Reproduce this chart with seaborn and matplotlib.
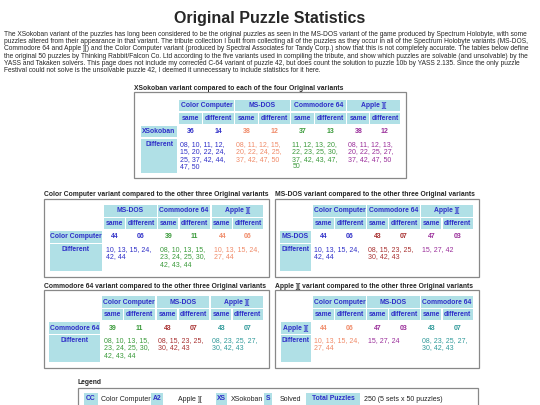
import matplotlib
matplotlib.use("Agg")
import matplotlib.pyplot as plt
import seaborn as sns
from matplotlib.patches import Rectangle

sns.set_theme(style="white")
plt.rcParams['font.family'] = ['Liberation Sans', 'DejaVu Sans']

# ---------------- data ----------------
TITLE = "Original Puzzle Statistics"
PARAGRAPH = [
    "The XSokoban variant of the puzzles has long been considered to be the original puzzles as seen in the MS-DOS variant of the game produced by Spectrum Holobyte, with some",
    "puzzles altered from their appearance in that variant. The tribute collection I built from collecting all of the puzzles as they occur in all of the Spectrum Holobyte variants (MS-DOS,",
    "Commodore 64 and Apple ][) and the Color Computer variant (produced by Spectral Associates for Tandy Corp.) show that this is not completely accurate. The tables below define",
    "the original 50 puzzles by Thinking Rabbit/Falcon Co. Ltd according to the five variants used in compiling the tribute, and show which puzzles are solvable (and unsolvable) by the",
    "YASS and Takaken solvers. This page does not include my corrected C-64 variant of puzzle 42, but does count the solution to puzzle 10b by YASS 2.135. Since the only puzzle",
    "Festival could not solve is the unsolvable puzzle 42, I deemed it unnecessary to include statistics for it here.",
]

XS_COLS = ["Color Computer", "MS-DOS", "Commodore 64", "Apple ]["]
XS_SAME = [36, 38, 37, 38]
XS_DIFF = [14, 12, 13, 12]
XS_LISTS = [[8, 10, 11, 12, 15, 20, 22, 24, 25, 37, 42, 44, 47, 50],
            [8, 11, 12, 15, 20, 22, 24, 25, 37, 42, 47, 50],
            [11, 12, 13, 20, 22, 23, 25, 30, 37, 42, 43, 47, 50],
            [8, 11, 12, 13, 20, 22, 25, 27, 37, 42, 47, 50]]

CC_COLS = ["MS-DOS", "Commodore 64", "Apple ]["]
CC_SAME = [44, 39, 44]
CC_DIFF = [6, 11, 6]
CC_LISTS = [[10, 13, 15, 24, 42, 44],
            [8, 10, 13, 15, 23, 24, 25, 30, 42, 43, 44],
            [10, 13, 15, 24, 27, 44]]

MS_COLS = ["Color Computer", "Commodore 64", "Apple ]["]
MS_SAME = [44, 43, 47]
MS_DIFF = [6, 7, 3]
MS_LISTS = [[10, 13, 15, 24, 42, 44],
            [8, 15, 23, 25, 30, 42, 43],
            [15, 27, 42]]

C64_COLS = ["Color Computer", "MS-DOS", "Apple ]["]
C64_SAME = [39, 43, 43]
C64_DIFF = [11, 7, 7]
C64_LISTS = [[8, 10, 13, 15, 23, 24, 25, 30, 42, 43, 44],
             [8, 15, 23, 25, 30, 42, 43],
             [8, 23, 25, 27, 30, 42, 43]]

A2_COLS = ["Color Computer", "MS-DOS", "Commodore 64"]
A2_SAME = [44, 47, 43]
A2_DIFF = [6, 3, 7]
A2_LISTS = [[10, 13, 15, 24, 27, 44],
            [15, 27, 24],
            [8, 23, 25, 27, 30, 42, 43]]

LEGEND_KEYS = ["CC", "A2", "XS", "S", "Total Puzzles"]
LEGEND_VALS = ["Color Computer", "Apple ][", "XSokoban", "Solved", "250 (5 sets x 50 puzzles)"]

# ---------------- style ----------------
HDR_BG = "#b0e0e6"
HDR_FG = "#2e2ec8"
BLUE = "#3030c8"
SALMON = "#f08a68"
GREEN = "#3a9a3a"
PURPLE = "#9a2e9a"
DRED = "#a83030"
TEAL = "#309a9a"
BORDER = "#888888"

fig = plt.figure(figsize=(5.4, 4.05), dpi=100)
ax = fig.add_axes([0, 0, 1, 1])
ax.set_xlim(0, 540)
ax.set_ylim(405, 0)
ax.axis("off")

FS_H = 4.9
FS_B = 5.0

ax.text(270, 18, TITLE, ha="center", va="center", fontsize=11.5, fontweight="bold")
for i, line in enumerate(PARAGRAPH):
    ax.text(4, 34 + i * 7.4, line, ha="left", va="center", fontsize=4.8)


def cell(x0, x1, y0, y1, text=None, va="center"):
    ax.add_patch(Rectangle((x0, y0), x1 - x0, y1 - y0, facecolor=HDR_BG, edgecolor="none"))
    if text:
        y = (y0 + y1) / 2 if va == "center" else y0 + 5.5
        ax.text((x0 + x1) / 2, y, text, ha="center", va="center", fontsize=FS_H,
                fontweight="bold", color=HDR_FG)


def fmt_list(vals):
    items = ["%02d" % v for v in vals]
    lines = []
    for k in range(0, len(items), 4):
        chunk = items[k:k + 4]
        last = k + 4 >= len(items)
        lines.append(", ".join(chunk) + ("" if last else ","))
    return lines


def table(caption, box, rowlab, cols, same, diff, lists, colors, rh, groups, rows, splitfrac):
    bx0, bx1, by0, by1 = box
    ax.text(bx0, by0 - 4, caption, ha="left", va="center", fontsize=4.9, fontweight="bold")
    ax.add_patch(Rectangle((bx0, by0), bx1 - bx0, by1 - by0, facecolor="white",
                           edgecolor=BORDER, lw=0.9))
    (h1a, h1b), (h2a, h2b), (d0, d1), (f0, f1) = rows
    cell(rh[0], rh[1], d0, d1, rowlab)
    cell(rh[0], rh[1], f0, f1, "Different", va="top")
    for gi, (g0, g1) in enumerate(groups):
        cell(g0, g1, h1a, h1b, cols[gi])
        xm = g0 + (g1 - g0) * splitfrac
        cell(g0, xm - 0.7, h2a, h2b, "same")
        cell(xm + 0.7, g1, h2a, h2b, "different")
        c = colors[gi]
        ax.text((g0 + xm) / 2, (d0 + d1) / 2, "%02d" % same[gi], ha="center", va="center",
                fontsize=FS_B, fontweight="bold", color=c)
        ax.text((xm + g1) / 2, (d0 + d1) / 2, "%02d" % diff[gi], ha="center", va="center",
                fontsize=FS_B, fontweight="bold", color=c)
        for li, ln in enumerate(fmt_list(lists[gi])):
            ax.text(g0 + 1.5, f0 + 5.5 + li * 7.5, ln, ha="left", va="center",
                    fontsize=FS_B, color=c)


# XSokoban table
table("XSokoban variant compared to each of the four Original variants",
      (134, 406, 92, 178), "XSokoban", XS_COLS, XS_SAME, XS_DIFF, XS_LISTS,
      [BLUE, SALMON, GREEN, PURPLE], (141, 177),
      [(179, 234), (235, 290), (291, 346), (347, 400)],
      [(100, 111), (113, 124), (126, 137), (139, 173)], 0.43)

rows_top = [(205, 217), (218, 229), (231, 243), (244, 271)]
rows_bot = [(r0 + 91, r1 + 91) for r0, r1 in rows_top]

table("Color Computer variant compared to the other three Original variants",
      (44, 269, 199, 277), "Color Computer", CC_COLS, CC_SAME, CC_DIFF, CC_LISTS,
      [BLUE, GREEN, SALMON], (50, 102), [(104, 157), (158, 210), (212, 263)],
      rows_top, 0.4)
table("MS-DOS variant compared to the other three Original variants",
      (275, 479, 199, 277), "MS-DOS", MS_COLS, MS_SAME, MS_DIFF, MS_LISTS,
      [BLUE, DRED, PURPLE], (280, 311), [(313, 366), (367, 420), (421, 473)],
      rows_top, 0.4)
table("Commodore 64 variant compared to the other three Original variants",
      (44, 269, 290, 368), "Commodore 64", C64_COLS, C64_SAME, C64_DIFF, C64_LISTS,
      [GREEN, DRED, TEAL], (49, 100), [(102, 155), (157, 209), (211, 263)],
      rows_bot, 0.4)
table("Apple ][ variant compared to the other three Original variants",
      (275, 479, 290, 368), "Apple ][", A2_COLS, A2_SAME, A2_DIFF, A2_LISTS,
      [SALMON, PURPLE, TEAL], (281, 311), [(313, 366), (367, 420), (421, 473)],
      rows_bot, 0.4)

# Legend
ax.text(78, 383, "Legend", ha="left", va="center", fontsize=4.9, fontweight="bold")
ax.add_patch(Rectangle((78, 388), 400, 30, facecolor="white", edgecolor=BORDER, lw=0.9))
key_x = [(84, 98), (151, 163), (216, 227), (264, 272), (306, 360)]
val_x = [101, 178, 231, 280, 364]
for (k0, k1), key, vx, val in zip(key_x, LEGEND_KEYS, val_x, LEGEND_VALS):
    cell(k0, k1, 393, 405, key)
    ax.text(vx, 399.5, val, ha="left", va="center", fontsize=FS_B, color="#222222")

fig.savefig("out.png", dpi=100)
